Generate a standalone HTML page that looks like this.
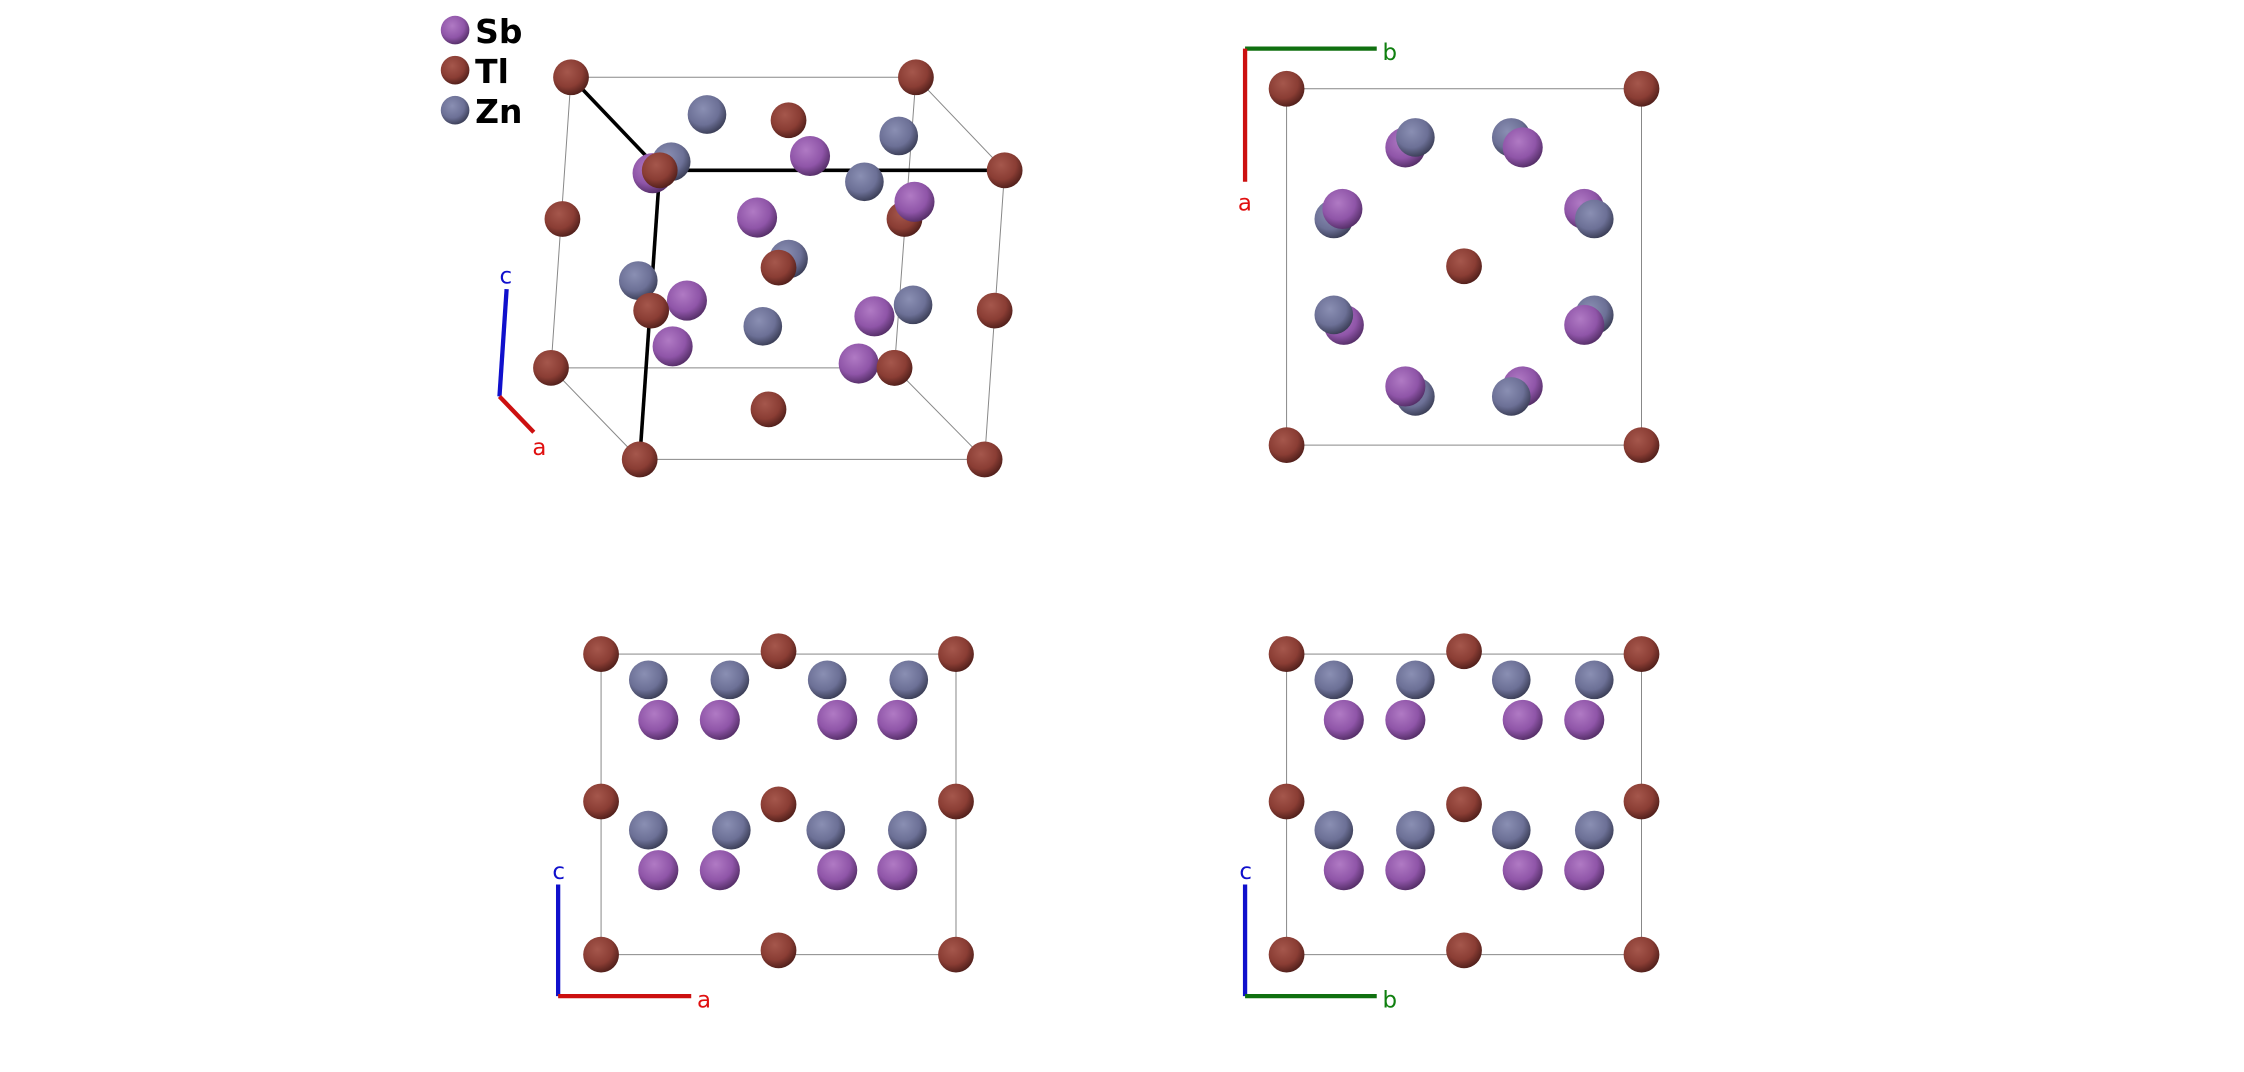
<!DOCTYPE html>
<html><head><meta charset="utf-8"><style>
html,body{margin:0;padding:0;background:#fff;width:2244px;height:1072px;overflow:hidden}
svg{display:block}
text{font-family:"DejaVu Sans","Liberation Sans",sans-serif}
</style></head><body>
<svg width="2244" height="1072" viewBox="0 0 1568 749" preserveAspectRatio="none" xmlns="http://www.w3.org/2000/svg">
<defs>
<radialGradient id="tl" cx="0.4" cy="0.35" r="0.7"><stop offset="0" stop-color="#a5574c"/><stop offset="0.6" stop-color="#8a3d34"/><stop offset="1" stop-color="#4a1c18"/></radialGradient>
<radialGradient id="sb" cx="0.4" cy="0.35" r="0.7"><stop offset="0" stop-color="#b07ac4"/><stop offset="0.6" stop-color="#8f55a8"/><stop offset="1" stop-color="#4e2a60"/></radialGradient>
<radialGradient id="zn" cx="0.4" cy="0.35" r="0.7"><stop offset="0" stop-color="#8a8fb3"/><stop offset="0.6" stop-color="#6c7096"/><stop offset="1" stop-color="#35384f"/></radialGradient>
<circle id="T" r="12.5" fill="url(#tl)"/>
<circle id="S" r="14" fill="url(#sb)"/>
<circle id="Z" r="13.5" fill="url(#zn)"/>
</defs>
<!-- legend -->
<circle cx="318" cy="21" r="10" fill="url(#sb)"/>
<circle cx="318" cy="49" r="10" fill="url(#tl)"/>
<circle cx="318" cy="77" r="10" fill="url(#zn)"/>
<text x="332" y="30" font-size="23" font-weight="bold">Sb</text>
<text x="332" y="58" font-size="23" font-weight="bold">Tl</text>
<text x="332" y="86" font-size="23" font-weight="bold">Zn</text>

<!-- panel 1 box -->
<g stroke="#888" stroke-width="0.7" fill="none">
<polygon points="399,54 640,54 625,257 385,257"/>
<polygon points="461,119 702,119 688,321 447,321"/>
<line x1="640" y1="54" x2="702" y2="119"/><line x1="625" y1="257" x2="688" y2="321"/><line x1="385" y1="257" x2="447" y2="321"/>
</g>
<g stroke="#000" stroke-width="2.5"><line x1="399" y1="54" x2="461" y2="119"/><line x1="461" y1="119" x2="702" y2="119"/><line x1="461" y1="119" x2="447" y2="321"/></g>
<line x1="354" y1="202" x2="349" y2="277" stroke="#1010cc" stroke-width="3"/>
<line x1="349" y1="277" x2="373" y2="302" stroke="#cc1010" stroke-width="3"/>
<text x="349" y="198" font-size="16" fill="#1010cc">c</text>
<text x="372" y="318" font-size="16" fill="#e01010">a</text>
<g>
<use href="#T" x="399" y="54"/><use href="#T" x="640" y="54"/><use href="#T" x="385" y="257"/><use href="#T" x="625" y="257"/>
<use href="#Z" x="494" y="80"/><use href="#T" x="551" y="84"/><use href="#Z" x="628" y="95"/>
<use href="#T" x="393" y="153"/><use href="#T" x="632" y="153"/>
<use href="#Z" x="469" y="113"/><use href="#S" x="456" y="121"/><use href="#S" x="566" y="109"/><use href="#Z" x="604" y="127"/>
<use href="#S" x="639" y="141"/><use href="#S" x="529" y="152"/>
<use href="#Z" x="551" y="181"/><use href="#T" x="544" y="187"/>
<use href="#Z" x="446" y="196"/><use href="#Z" x="533" y="228"/><use href="#Z" x="638" y="213"/>
<use href="#S" x="480" y="210"/><use href="#S" x="470" y="242"/><use href="#S" x="611" y="221"/><use href="#S" x="600" y="254"/>
<use href="#T" x="625" y="257"/><use href="#T" x="537" y="286"/>
<use href="#T" x="461" y="119"/><use href="#T" x="455" y="217"/><use href="#T" x="702" y="119"/><use href="#T" x="695" y="217"/>
<use href="#T" x="447" y="321"/><use href="#T" x="688" y="321"/>
</g>

<!-- panel 2 -->
<rect x="899" y="62" width="248" height="249" fill="none" stroke="#888" stroke-width="0.7"/>
<line x1="870" y1="34" x2="962" y2="34" stroke="#107010" stroke-width="3"/>
<line x1="870" y1="34" x2="870" y2="127" stroke="#cc1010" stroke-width="3"/>
<text x="966" y="42" font-size="16" fill="#108010">b</text>
<text x="865" y="147" font-size="16" fill="#e01010">a</text>
<use href="#T" x="899" y="62"/><use href="#T" x="1147" y="62"/><use href="#T" x="899" y="311"/><use href="#T" x="1147" y="311"/><use href="#T" x="1023" y="186"/>
<use href="#S" x="982" y="103"/><use href="#Z" x="989" y="96"/>
<use href="#Z" x="1056" y="96"/><use href="#S" x="1064" y="103"/>
<use href="#Z" x="932" y="153"/><use href="#S" x="938" y="146"/>
<use href="#S" x="1107" y="146"/><use href="#Z" x="1114" y="153"/>
<use href="#S" x="939" y="227"/><use href="#Z" x="932" y="220"/>
<use href="#Z" x="1114" y="220"/><use href="#S" x="1107" y="227"/>
<use href="#Z" x="989" y="277"/><use href="#S" x="982" y="270"/>
<use href="#S" x="1064" y="270"/><use href="#Z" x="1056" y="277"/>

<!-- panel 3 -->
<rect x="420" y="457" width="248" height="210" fill="none" stroke="#888" stroke-width="0.7"/>
<line x1="390" y1="618" x2="390" y2="696" stroke="#1010cc" stroke-width="3"/>
<line x1="390" y1="696" x2="483" y2="696" stroke="#cc1010" stroke-width="3"/>
<text x="386" y="614" font-size="16" fill="#1010cc">c</text>
<text x="487" y="704" font-size="16" fill="#e01010">a</text>
<g>
<use href="#T" x="420" y="457"/><use href="#T" x="668" y="457"/><use href="#T" x="544" y="455"/>
<use href="#T" x="420" y="560"/><use href="#T" x="668" y="560"/><use href="#T" x="544" y="562"/>
<use href="#T" x="420" y="667"/><use href="#T" x="668" y="667"/><use href="#T" x="544" y="664"/>
<use href="#Z" x="453" y="475"/><use href="#Z" x="510" y="475"/><use href="#Z" x="578" y="475"/><use href="#Z" x="635" y="475"/>
<use href="#S" x="460" y="503"/><use href="#S" x="503" y="503"/><use href="#S" x="585" y="503"/><use href="#S" x="627" y="503"/>
<use href="#Z" x="453" y="580"/><use href="#Z" x="511" y="580"/><use href="#Z" x="577" y="580"/><use href="#Z" x="634" y="580"/>
<use href="#S" x="460" y="608"/><use href="#S" x="503" y="608"/><use href="#S" x="585" y="608"/><use href="#S" x="627" y="608"/>
</g>

<!-- panel 4 -->
<rect x="899" y="457" width="248" height="210" fill="none" stroke="#888" stroke-width="0.7"/>
<line x1="870" y1="618" x2="870" y2="696" stroke="#1010cc" stroke-width="3"/>
<line x1="870" y1="696" x2="962" y2="696" stroke="#107010" stroke-width="3"/>
<text x="866" y="614" font-size="16" fill="#1010cc">c</text>
<text x="966" y="704" font-size="16" fill="#108010">b</text>
<g>
<use href="#T" x="899" y="457"/><use href="#T" x="1147" y="457"/><use href="#T" x="1023" y="455"/>
<use href="#T" x="899" y="560"/><use href="#T" x="1147" y="560"/><use href="#T" x="1023" y="562"/>
<use href="#T" x="899" y="667"/><use href="#T" x="1147" y="667"/><use href="#T" x="1023" y="664"/>
<use href="#Z" x="932" y="475"/><use href="#Z" x="989" y="475"/><use href="#Z" x="1056" y="475"/><use href="#Z" x="1114" y="475"/>
<use href="#S" x="939" y="503"/><use href="#S" x="982" y="503"/><use href="#S" x="1064" y="503"/><use href="#S" x="1107" y="503"/>
<use href="#Z" x="932" y="580"/><use href="#Z" x="989" y="580"/><use href="#Z" x="1056" y="580"/><use href="#Z" x="1114" y="580"/>
<use href="#S" x="939" y="608"/><use href="#S" x="982" y="608"/><use href="#S" x="1064" y="608"/><use href="#S" x="1107" y="608"/>
</g>
</svg>
</body></html>
